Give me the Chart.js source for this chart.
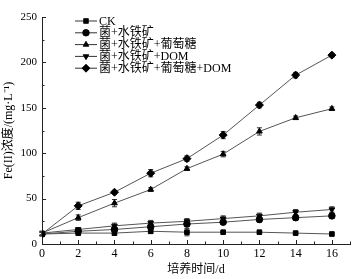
<!DOCTYPE html>
<html>
<head>
<meta charset="utf-8">
<script src="https://cdn.jsdelivr.net/npm/chart.js@4.4.1/dist/chart.umd.min.js"></script>
<style>
  html, body { margin: 0; padding: 0; background: #fff; }
  #wrap { width: 358px; height: 279px; }
</style>
</head>
<body>
<div id="wrap"><canvas id="chart" width="358" height="279"></canvas></div>
<script>
// culture time (d)
const days = [0, 2, 4, 6, 8, 10, 12, 14, 16];

const seriesNames = ['CK', '菌+水铁矿', '菌+水铁矿+葡萄糖', '菌+水铁矿+DOM', '菌+水铁矿+葡萄糖+DOM'];

// Fe(II) concentration, mg/L
const ckValues = [11, 12, 12, 14, 13, 13, 13, 12, 11];
const ferriValues = [11, 14, 16, 19, 22, 24, 27, 29, 31];
const glucoseValues = [12, 29, 45, 60, 83, 99, 124, 139, 149];
const domValues = [12, 16, 20, 23, 25, 28, 31, 35, 38];
const glucoseDomValues = [11, 42, 57, 78, 94, 120, 153, 186, 208];

// error bar half-lengths
const ckErr = [2, 2, 2, 2, 4, 1, 1, 1, 1];
const ferriErr = [2, 2, 2, 2, 3, 2, 3, 3, 3];
const glucoseErr = [2, 3, 4, 2, 2, 3, 4, 2, 2];
const domErr = [2, 2, 3, 3, 3, 3, 3, 3, 3];
const glucoseDomErr = [2, 4, 2, 4, 3, 4, 3, 3, 2];

const xTicks = [0, 2, 4, 6, 8, 10, 12, 14, 16];
const yTicks = [0, 50, 100, 150, 200, 250];

const serif = '"Liberation Serif", "Times New Roman", "Noto Sans CJK SC", serif';
const ink = '#222';

function makeSet(label, values, errs, style, rotation) {
    return {
        label,
        data: days.map((d, i) => ({ x: d, y: values[i] })),
        errors: errs,
        borderColor: '#555',
        borderWidth: 1,
        backgroundColor: '#000',
        pointBackgroundColor: '#000',
        pointBorderColor: '#000',
        pointBorderWidth: 1,
        pointStyle: style,
        pointRotation: rotation || 0,
        pointRadius: style === 'rectRot' ? 4 : 3.3,
        tension: 0,
    };
}

const errorBars = {
    id: 'errorBars',
    beforeDatasetsDraw(chart) {
        const { ctx, scales: { x, y } } = chart;
        ctx.save();
        ctx.strokeStyle = '#333';
        ctx.lineWidth = 1;
        chart.data.datasets.forEach((ds) => {
            ds.data.forEach((p, i) => {
                const e = ds.errors[i];
                const px = x.getPixelForValue(p.x);
                const top = y.getPixelForValue(p.y + e);
                const bot = y.getPixelForValue(p.y - e);
                ctx.beginPath();
                ctx.moveTo(px, top); ctx.lineTo(px, bot);
                ctx.moveTo(px - 2.5, top); ctx.lineTo(px + 2.5, top);
                ctx.moveTo(px - 2.5, bot); ctx.lineTo(px + 2.5, bot);
                ctx.stroke();
            });
        });
        ctx.restore();
    },
};

const innerTicks = {
    id: 'innerTicks',
    afterDraw(chart) {
        const { ctx, chartArea: a, scales: { x, y } } = chart;
        ctx.save();
        ctx.strokeStyle = ink;
        ctx.lineWidth = 1;
        ctx.beginPath();
        for (let v = 0; v <= 17; v++) {
            const px = Math.round(x.getPixelForValue(v)) + 0.5;
            const len = v % 2 === 0 ? 4 : 2.5;
            ctx.moveTo(px, a.bottom); ctx.lineTo(px, a.bottom - len);
        }
        for (let v = 0; v <= 250; v += 25) {
            const py = Math.round(y.getPixelForValue(v)) + 0.5;
            const len = v % 50 === 0 ? 4 : 2.5;
            ctx.moveTo(a.left, py); ctx.lineTo(a.left + len, py);
        }
        ctx.stroke();
        ctx.restore();
    },
};

const insideLegend = {
    id: 'insideLegend',
    afterDraw(chart) {
        const { ctx } = chart;
        const sets = chart.data.datasets;
        ctx.save();
        ctx.font = '12px ' + serif;
        ctx.textBaseline = 'middle';
        ctx.fillStyle = '#000';
        sets.forEach((ds, i) => {
            const cy = 21 + i * 11.8;
            ctx.strokeStyle = '#333';
            ctx.lineWidth = 1;
            ctx.beginPath();
            ctx.moveTo(75, cy); ctx.lineTo(97, cy);
            ctx.stroke();
            ctx.fillStyle = '#000';
            Chart.helpers.drawPoint(ctx, {
                pointStyle: ds.pointStyle,
                rotation: ds.pointRotation,
                radius: ds.pointRadius,
                borderWidth: 1,
            }, 86, cy);
            ctx.fill();
            ctx.fillText(ds.label, 99, cy + 0.5);
        });
        ctx.restore();
    },
};

new Chart(document.getElementById('chart'), {
    type: 'line',
    data: {
        datasets: [
            makeSet(seriesNames[0], ckValues, ckErr, 'rect'),
            makeSet(seriesNames[1], ferriValues, ferriErr, 'circle'),
            makeSet(seriesNames[2], glucoseValues, glucoseErr, 'triangle'),
            makeSet(seriesNames[3], domValues, domErr, 'triangle', 180),
            makeSet(seriesNames[4], glucoseDomValues, glucoseDomErr, 'rectRot'),
        ],
    },
    options: {
        responsive: false,
        animation: false,
        layout: { padding: { top: 17, right: 8, left: 0, bottom: 0 } },
        plugins: { legend: { display: false }, tooltip: { enabled: false } },
        scales: {
            x: {
                type: 'linear',
                min: 0,
                max: 17,
                afterBuildTicks: (s) => { s.ticks = xTicks.map((v) => ({ value: v })); },
                afterFit: (s) => { s.height = 35; },
                grid: { display: false, drawTicks: false },
                border: { display: true, color: ink, width: 1 },
                ticks: { color: '#000', font: { family: serif, size: 12 }, padding: 3, maxRotation: 0 },
                title: {
                    display: true, text: '培养时间/d', color: '#000',
                    font: { family: serif, size: 12 }, padding: { top: 1, bottom: 2 },
                },
            },
            y: {
                min: 0,
                max: 250,
                afterBuildTicks: (s) => { s.ticks = yTicks.map((v) => ({ value: v })); },
                afterFit: (s) => { s.width = 42; },
                grid: { display: false, drawTicks: false },
                border: { display: true, color: ink, width: 1 },
                ticks: { color: '#000', font: { family: serif, size: 11 }, padding: 5 },
                title: {
                    display: true, text: 'Fe(II)浓度/(mg·L⁻¹)', color: '#000',
                    font: { family: serif, size: 12 }, padding: { top: 2, bottom: 0 },
                },
            },
        },
    },
    plugins: [errorBars, innerTicks, insideLegend],
});
</script>
</body>
</html>
